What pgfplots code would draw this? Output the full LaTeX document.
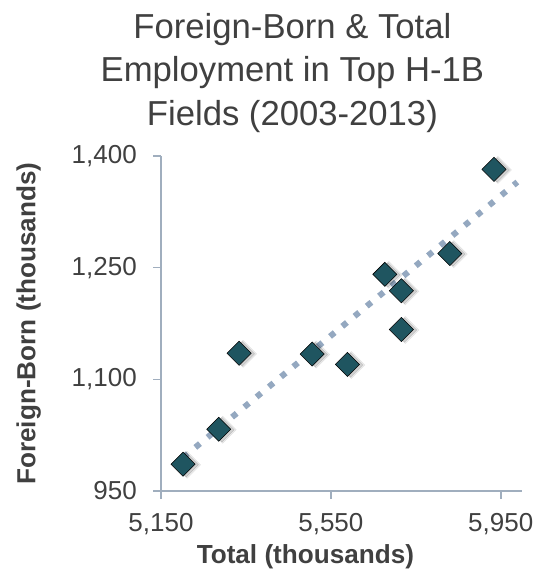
\documentclass[border=0pt]{standalone}
\usepackage{fontspec}
\setmainfont{Liberation Sans}
\usepackage{pgfplots}
\pgfplotsset{compat=1.18}

\definecolor{txt}{HTML}{404040}
\definecolor{axisc}{HTML}{A0AEBE}
\definecolor{teal}{HTML}{1F5560}
\definecolor{trend}{HTML}{94A8C0}

\pgfplotstableread{
x y
5202 986
5286 1033
5334 1135
5506 1134
5589 1120
5677 1241
5716 1219
5716 1167
5830 1269
5934 1382
}\pts

\begin{document}
\begin{tikzpicture}
\useasboundingbox (0,0) rectangle (405.75pt,429.75pt);
\begin{axis}[
    at={(120.75pt,61.5pt)}, anchor=south west,
    scale only axis,
    width=270.75pt, height=251.25pt,
    xmin=5150, xmax=6000,
    ymin=950, ymax=1400,
    xtick={5150,5550,5950},
    ytick={950,1100,1250,1400},
    axis lines=left,
    axis line style={-, draw=axisc, line width=1.1pt},
    tick style={draw=axisc, line width=1.1pt},
    tick align=outside,
    major tick length=6pt,
    /pgf/number format/assume math mode=true,
    /pgf/number format/1000 sep={,},
    tick label style={font=\fontsize{19.5}{22}\selectfont, text=txt, inner sep=0pt},
    xticklabel shift=10.5pt,
    yticklabel shift=12pt,
    title={Foreign-Born \& Total\\Employment in Top H-1B\\Fields (2003-2013)},
    title style={at={(axis description cs:0.364,1)}, anchor=north, yshift=101.25pt,
        inner sep=0pt, align=center, text=txt, font=\fontsize{26}{32.6}\selectfont},
    xlabel={Total (thousands)},
    xlabel style={at={(axis description cs:0.40,0)}, anchor=base, yshift=-54pt,
        inner sep=0pt, text=txt, font=\bfseries\fontsize{19.6}{22}\selectfont},
    ylabel={Foreign-Born (thousands)},
    ylabel style={at={(axis description cs:0,0.5)}, anchor=south, yshift=89.8pt,
        inner sep=0pt, text=txt, font=\bfseries\fontsize{19.6}{22}\selectfont},
    clip=false,
]
% soft shadow under the markers
\addplot[only marks, mark=square*, mark size=7.2pt, draw=none, fill=black, opacity=0.07,
    mark options={rotate=45, xshift=1.8pt, yshift=-2.4pt}] table[x=x, y=y] {\pts};
\addplot[only marks, mark=square*, mark size=6.5pt, draw=none, fill=black, opacity=0.12,
    mark options={rotate=45, xshift=1.4pt, yshift=-2pt}] table[x=x, y=y] {\pts};
\addplot[only marks, mark=square*, mark size=6.4pt, draw=none, fill=teal,
    mark options={rotate=45}] table[x=x, y=y] {\pts};
% linear trend line
\addplot[trend, line width=4.5pt, dash pattern=on 4.5pt off 7.4pt, line cap=butt] coordinates {
    (5202,995) (5989,1365)
};
\end{axis}
\end{tikzpicture}
\end{document}
